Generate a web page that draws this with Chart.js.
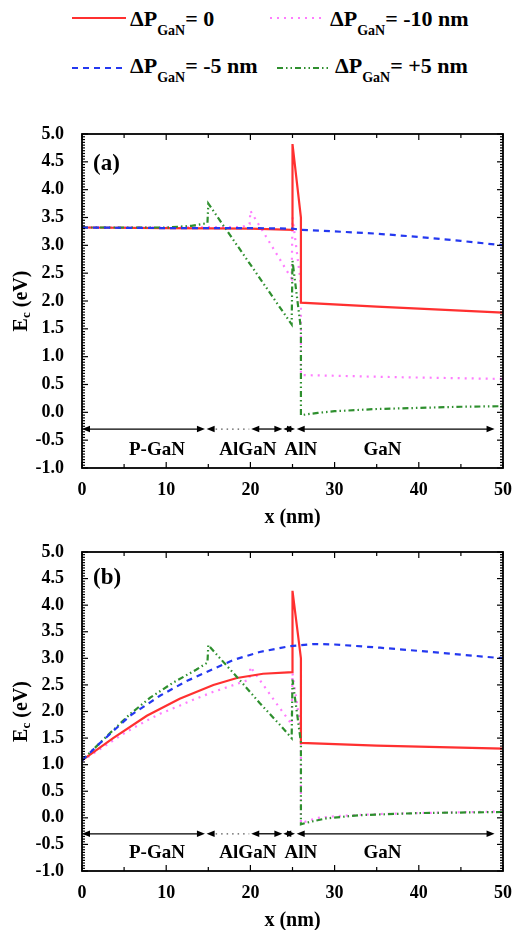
<!DOCTYPE html>
<html>
<head>
<meta charset="utf-8">
<script src="https://cdn.jsdelivr.net/npm/chart.js@4.4.1/dist/chart.umd.min.js"></script>
<style>
  html, body { margin: 0; padding: 0; background: #fff; }
  body { width: 514px; height: 930px; position: relative; overflow: hidden;
         font-family: 'Liberation Serif', 'Times New Roman', serif; }
  .leg { position: absolute; font-weight: bold; font-size: 22px; line-height: 1;
         white-space: nowrap; color: #000; }
  .leg sub { font-size: 14px; vertical-align: -9px; line-height: 0; }
  .sample { position: absolute; }
  .box { position: absolute; left: 0; width: 514px; }
</style>
</head>
<body>
<div id="legend"></div>
<div class="box" style="top:122px;height:413px"><canvas id="chartA"></canvas></div>
<div class="box" style="top:535px;height:395px"><canvas id="chartB"></canvas></div>

<script>
// Conduction band edge Ec (eV) vs depth x (nm), two panels, four ΔP_GaN cases.

const seriesLabels = ['= 0', '= -5 nm', '= -10 nm', '= +5 nm'];

// ─── panel (a): [x nm, Ec eV] ──────────────────────────────────────────
const redA = [[0, 3.32], [10, 3.31], [20, 3.30], [25, 3.28], [25, 4.82], [26, 3.50],
              [26, 1.97], [35, 1.90], [50, 1.79]];
const blueA = [[0, 3.32], [10, 3.31], [20, 3.31], [25, 3.30], [26, 3.28], [30, 3.25],
               [35, 3.21], [40, 3.15], [45, 3.08], [50, 3.00]];
const magentaA = [[0, 3.32], [10, 3.32], [19, 3.33], [19.9, 3.38], [20, 3.62], [24.9, 2.40],
                  [25, 3.50], [26, 2.30], [26, 0.67], [38, 0.63], [50, 0.60]];
const greenA = [[0, 3.32], [10, 3.32], [13, 3.35], [14.9, 3.40], [15, 3.75], [24.9, 1.58],
                [25, 2.72], [26, 1.50], [26, -0.05], [28, -0.01], [30, 0.02], [35, 0.06],
                [40, 0.08], [45, 0.10], [50, 0.11]];

// ─── panel (b) ─────────────────────────────────────────────────────────
const redB = [[0, 1.08], [3.7, 1.50], [7.7, 1.92], [11.6, 2.24], [15.6, 2.50], [18.4, 2.63],
              [21.5, 2.71], [25, 2.74], [25, 4.27], [26, 3.00], [26, 1.41], [35, 1.36], [50, 1.30]];
const blueB = [[0, 1.08], [2.1, 1.40], [5.7, 1.92], [9.3, 2.30], [12.4, 2.57], [15.6, 2.80],
               [18, 2.97], [21.1, 3.12], [24.7, 3.23], [27.5, 3.27], [30, 3.26], [35.4, 3.20],
               [40, 3.14], [45, 3.07], [50, 3.00]];
const magentaB = [[0, 1.07], [2.5, 1.33], [5.3, 1.62], [7.7, 1.83], [9.3, 1.96], [11.6, 2.11],
                  [13.2, 2.22], [15.6, 2.37], [18.8, 2.54], [19.9, 2.60], [20, 2.84], [23.1, 2.15],
                  [24.9, 1.76], [25, 2.72], [26, 1.65], [26, -0.10], [28, 0.00], [30, 0.03],
                  [35, 0.07], [40, 0.09], [50, 0.12]];
const greenB = [[0, 1.08], [3.3, 1.59], [5.7, 1.95], [8.1, 2.26], [10.8, 2.54], [13.6, 2.79],
                [14.9, 2.92], [15, 3.25], [16.4, 3.00], [18.8, 2.58], [21.1, 2.16], [23.5, 1.75],
                [24.9, 1.50], [25, 2.60], [26, 1.42], [26, -0.12], [27, -0.08], [29, -0.01],
                [33, 0.05], [40, 0.09], [50, 0.11]];

// ─── axes ──────────────────────────────────────────────────────────────
const xMin = 0, xMax = 50, xMajor = 10, xMinor = 5;
const yMin = -1, yMax = 5, yMajor = 0.5, yMinor = 0.05;

// ─── layer marks (nm) ──────────────────────────────────────────────────
const layerArrows = [[0, 14.6], [20.1, 23.8], [23.9, 25.3], [25.5, 49]];
const layerDotted = [14.8, 20.1];
const layerArrowY = -0.3;
const layerNames = ['P-GaN', 'AlGaN', 'AlN', 'GaN'];
const layerNameX = [8.9, 19.7, 26, 35.7];
const layerNameY = -0.67;

const SERIF = "'Liberation Serif', 'Times New Roman', serif";
const STY = [
  { color: '#ff3030', dash: [] },                        // ΔP = 0
  { color: '#2438f0', dash: [6, 5] },                    // -5 nm
  { color: '#ff7cff', dash: [2, 5] },                    // -10 nm
  { color: '#2e8f2e', dash: [6, 3, 1.5, 3, 1.5, 3] },    // +5 nm
];

// ─── legend (html, needs the subscript) ───────────────────────────────
const LEG_POS = [
  { s: 0, sx: 72, sy: 18, tx: 130, ty: 8 },
  { s: 2, sx: 270, sy: 18, tx: 330, ty: 8 },
  { s: 1, sx: 72, sy: 68, tx: 130, ty: 55 },
  { s: 3, sx: 277, sy: 68, tx: 335, ty: 55 },
];
(function buildLegend() {
  const host = document.getElementById('legend');
  LEG_POS.forEach(p => {
    const st = STY[p.s];
    const svg = `<svg class="sample" width="55" height="6" style="left:${p.sx}px;top:${p.sy - 3}px">`
      + `<line x1="0" y1="3" x2="54" y2="3" stroke="${st.color}" stroke-width="2.2"`
      + ` stroke-dasharray="${st.dash.length ? st.dash.join(',') : 'none'}"/></svg>`;
    host.insertAdjacentHTML('beforeend', svg);
    host.insertAdjacentHTML('beforeend',
      `<div class="leg" style="left:${p.tx}px;top:${p.ty}px">ΔP<sub>GaN</sub>${seriesLabels[p.s]}</div>`);
  });
})();

// ─── frame, inward ticks, layer arrows, titles ────────────────────────
function seg(ctx, x1, y1, x2, y2) {
  ctx.beginPath(); ctx.moveTo(x1, y1); ctx.lineTo(x2, y2); ctx.stroke();
}
function head(ctx, tip, y, dir) {
  // dir -1: points left, +1: points right
  ctx.beginPath();
  ctx.moveTo(tip, y);
  ctx.lineTo(tip - dir * 8, y - 3.2);
  ctx.lineTo(tip - dir * 8, y + 3.2);
  ctx.closePath(); ctx.fill();
}

const framePlugin = {
  id: 'frame',
  afterDatasetsDraw(chart, args, opts) {
    const { ctx, chartArea: a, scales: { x, y } } = chart;
    ctx.save();
    ctx.strokeStyle = '#000'; ctx.fillStyle = '#000';

    ctx.lineWidth = 1.2;
    for (let v = xMin; v <= xMax + 1e-9; v += xMinor) {
      const px = x.getPixelForValue(v);
      const len = Math.abs(v % xMajor) < 1e-9 ? 6 : 4;
      seg(ctx, px, a.bottom, px, a.bottom - len);
      seg(ctx, px, a.top, px, a.top + len);
    }
    const nMinor = Math.round((yMax - yMin) / yMinor);
    const every = Math.round(yMajor / yMinor);
    for (let i = 0; i <= nMinor; i++) {
      const py = y.getPixelForValue(yMin + i * yMinor);
      const len = i % every === 0 ? 6 : 3;
      seg(ctx, a.left, py, a.left + len, py);
      seg(ctx, a.right, py, a.right - len, py);
    }
    ctx.lineWidth = 1.8;
    ctx.strokeRect(a.left, a.top, a.right - a.left, a.bottom - a.top);

    // layer arrows
    const ay = y.getPixelForValue(layerArrowY);
    ctx.lineWidth = 1.3;
    layerArrows.forEach(([from, to]) => {
      const p1 = x.getPixelForValue(from), p2 = x.getPixelForValue(to);
      seg(ctx, p1 + 4, ay, p2 - 4, ay);
      head(ctx, p1, ay, -1);
      head(ctx, p2, ay, 1);
    });
    const d1 = x.getPixelForValue(layerDotted[0]), d2 = x.getPixelForValue(layerDotted[1]);
    head(ctx, d1, ay, -1);
    ctx.setLineDash([1.5, 4]); ctx.strokeStyle = '#555';
    seg(ctx, d1 + 9, ay, d2 - 2, ay);
    ctx.setLineDash([]); ctx.strokeStyle = '#000';

    ctx.font = `bold 19px ${SERIF}`;
    ctx.textAlign = 'center'; ctx.textBaseline = 'middle';
    const ly = y.getPixelForValue(layerNameY);
    layerNames.forEach((n, i) => ctx.fillText(n, x.getPixelForValue(layerNameX[i]), ly));

    // panel tag
    ctx.font = `bold 23px ${SERIF}`;
    ctx.textAlign = 'left'; ctx.textBaseline = 'alphabetic';
    ctx.fillText(opts.tag, a.left + 11, a.top + opts.tagDy);

    // x title
    ctx.font = `bold 20px ${SERIF}`;
    ctx.textAlign = 'center';
    ctx.fillText('x (nm)', (a.left + a.right) / 2, a.bottom + 55);

    // y title  E_c (eV)
    ctx.translate(22, (a.top + a.bottom) / 2);
    ctx.rotate(-Math.PI / 2);
    ctx.textBaseline = 'middle'; ctx.textAlign = 'left';
    const bigF = `bold 20px ${SERIF}`, smallF = `bold 13px ${SERIF}`;
    ctx.font = bigF; const wE = ctx.measureText('E').width; const wT = ctx.measureText(' (eV)').width;
    ctx.font = smallF; const wc = ctx.measureText('c').width;
    let cx = -(wE + wc + wT) / 2;
    ctx.font = bigF; ctx.fillText('E', cx, 0); cx += wE;
    ctx.font = smallF; ctx.fillText('c', cx, 5); cx += wc;
    ctx.font = bigF; ctx.fillText(' (eV)', cx, 0);
    ctx.restore();
  }
};

function ds(points, st) {
  return {
    data: points.map(([x, y]) => ({ x, y })),
    borderColor: st.color, borderWidth: 2.2, borderDash: st.dash,
    pointRadius: 0, tension: 0, fill: false
  };
}

function makePanel(id, tag, tagDy, series, padTop, xAxisH) {
  const [red, blue, magenta, green] = series;
  new Chart(document.getElementById(id), {
    type: 'line',
    // first dataset is painted last (on top)
    data: { datasets: [ds(blue, STY[1]), ds(green, STY[3]), ds(red, STY[0]), ds(magenta, STY[2])] },
    options: {
      responsive: true, maintainAspectRatio: false, animation: false,
      layout: { padding: { top: padTop, right: 11, left: 0, bottom: 0 } },
      plugins: { legend: { display: false }, tooltip: { enabled: false }, frame: { tag, tagDy } },
      scales: {
        x: {
          type: 'linear', min: xMin, max: xMax,
          afterFit: s => { s.height = xAxisH; s.paddingLeft = 0; s.paddingRight = 0; },
          grid: { display: false }, border: { display: false },
          ticks: { stepSize: xMajor, padding: 4, color: '#000', maxRotation: 0,
                   font: { family: SERIF, size: 18, weight: 'bold' } }
        },
        y: {
          type: 'linear', min: yMin, max: yMax,
          afterFit: s => { s.width = 82; s.paddingTop = 0; s.paddingBottom = 0; },
          grid: { display: false }, border: { display: false },
          ticks: { stepSize: yMajor, padding: 10, color: '#000',
                   callback: v => Number(v).toFixed(1),
                   font: { family: SERIF, size: 18, weight: 'bold' } }
        }
      }
    },
    plugins: [framePlugin]
  });
}

makePanel('chartA', '(a)', 36, [redA, blueA, magentaA, greenA], 12, 67);
makePanel('chartB', '(b)', 32, [redB, blueB, magentaB, greenB], 17, 59);
</script>
</body>
</html>
